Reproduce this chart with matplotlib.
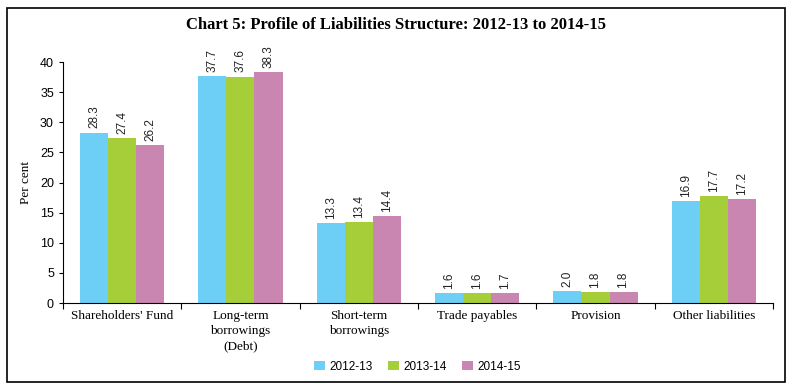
import numpy as np
import matplotlib.pyplot as plt
from matplotlib.patches import Rectangle

categories = ["Shareholders' Fund", "Long-term\nborrowings\n(Debt)", "Short-term\nborrowings",
              "Trade payables", "Provision", "Other liabilities"]
years = ["2012-13", "2013-14", "2014-15"]
v_2012 = [28.3, 37.7, 13.3, 1.6, 2.0, 16.9]
v_2013 = [27.4, 37.6, 13.4, 1.6, 1.8, 17.7]
v_2014 = [26.2, 38.3, 14.4, 1.7, 1.8, 17.2]
colors = ["#6dcff6", "#a6ce39", "#c886b0"]

serif = "Liberation Serif"
sans = "Liberation Sans"

fig = plt.figure(figsize=(7.92, 3.88), dpi=100)
ax = fig.add_axes([0.0795, 0.219, 0.8965, 0.621])

x = np.arange(len(categories))
w = 0.237
for i, (vals, c, lab) in enumerate(zip([v_2012, v_2013, v_2014], colors, years)):
    bars = ax.bar(x + (i - 1) * w, vals, w, color=c, label=lab)
    for b, v in zip(bars, vals):
        ax.text(b.get_x() + b.get_width() / 2, v + 0.7, f"{v:.1f}", rotation=90,
                ha="center", va="bottom", fontsize=8.5, family=sans, color="#222222")

ax.set_xlim(-0.5, len(categories) - 0.5)
ax.set_ylim(0, 40)
ax.set_yticks(range(0, 41, 5))
ax.tick_params(axis="y", labelsize=9, length=3, direction="out")
for t in ax.get_yticklabels():
    t.set_family(sans)

ax.set_xticks(np.arange(-0.5, len(categories), 1.0))
ax.set_xticklabels([])
ax.tick_params(axis="x", length=4, direction="out")
for i, c in enumerate(categories):
    ax.text(i, -1.2, c, ha="center", va="top", fontsize=9.5, family=serif,
            linespacing=1.35)

for s in ["top", "right"]:
    ax.spines[s].set_visible(False)

ax.set_ylabel("Per cent", family=serif, fontsize=9.5, labelpad=6)

fig.text(0.5, 0.935, "Chart 5: Profile of Liabilities Structure: 2012-13 to 2014-15",
         ha="center", va="center", fontsize=12, fontweight="bold", family=serif)

leg = fig.legend(loc="center", bbox_to_anchor=(0.527, 0.055), ncol=3, frameon=False,
                 prop={"family": sans, "size": 8.5}, handlelength=0.9, handleheight=0.9,
                 columnspacing=1.3, handletextpad=0.4)

fig.patches.append(Rectangle((7 / 792, 6 / 388), 778 / 792, 374 / 388, transform=fig.transFigure,
                             fill=False, edgecolor="black", linewidth=1.2))

fig.savefig("out.png", dpi=100)
